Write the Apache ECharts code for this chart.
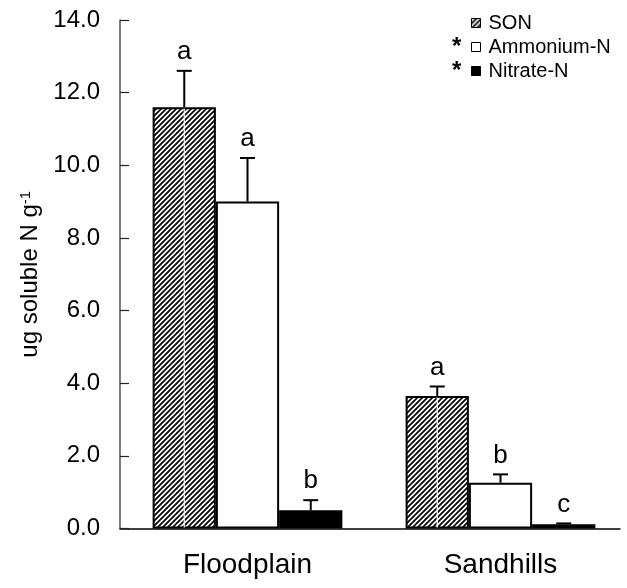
<!DOCTYPE html>
<html>
<head>
<meta charset="utf-8">
<script src="https://cdn.jsdelivr.net/npm/echarts/dist/echarts.min.js"></script>
<style>
  html, body { margin: 0; padding: 0; background: #fff; }
  #chart { width: 627px; height: 588px; }
</style>
</head>
<body>
<div id="chart"></div>
<script>
// Soluble N pools by site (ug N per g soil), mean with one-sided error bars
const sites = ['Floodplain', 'Sandhills'];
const seriesNames = ['SON', 'Ammonium-N', 'Nitrate-N'];

const sonMean = [11.6, 3.65];
const sonErr = [1.0, 0.26];
const ammoniumMean = [9.0, 1.26];
const ammoniumErr = [1.2, 0.23];
const nitrateMean = [0.5, 0.12];
const nitrateErr = [0.28, 0.02];

// significance letters drawn above each bar
const sonLetters = ['a', 'a'];
const ammoniumLetters = ['a', 'b'];
const nitrateLetters = ['b', 'c'];

const yMin = 0, yMax = 14, yStep = 2;

const means = [sonMean, ammoniumMean, nitrateMean];
const errs = [sonErr, ammoniumErr, nitrateErr];
const letters = [sonLetters, ammoniumLetters, nitrateLetters];

const FONT = 'Liberation Sans, Arial, sans-serif';
const CAT_GAP = 0.25;

// diagonal "////" hatch used for the SON bars
function hatch() {
  const s = 5;
  const c = document.createElement('canvas');
  c.width = s; c.height = s;
  const g = c.getContext('2d');
  g.fillStyle = '#fff';
  g.fillRect(0, 0, s, s);
  g.strokeStyle = '#000';
  g.lineWidth = 1.7;
  g.beginPath();
  g.moveTo(-1, s + 1); g.lineTo(s + 1, -1);
  g.moveTo(-1, 1); g.lineTo(1, -1);
  g.moveTo(s - 1, s + 1); g.lineTo(s + 1, s - 1);
  g.stroke();
  return c;
}
const hatchFill = { image: hatch(), repeat: 'repeat' };
const fills = [hatchFill, '#ffffff', '#000000'];

// error bar + letter records: [category, mean, err, seriesIdx]
const errData = [];
for (let k = 0; k < 3; k++) {
  for (let j = 0; j < sites.length; j++) {
    errData.push([j, means[k][j], errs[k][j], k]);
  }
}

function renderErr(params, api) {
  const cat = api.value(0), val = api.value(1), err = api.value(2), k = api.value(3);
  const band = api.size([1, 0])[0];
  const bw = band * (1 - CAT_GAP) / 3;
  const base = api.coord([cat, 0]);
  const x = base[0] + (k - 1) * bw;
  const yTop = api.coord([cat, val])[1];
  const yErr = api.coord([cat, val + err])[1];
  const cap = 7.5;
  const children = [];
  if (k === 0) {
    // light seam running down the hatched bar
    children.push({
      type: 'line',
      shape: { x1: x, y1: yTop + 1.5, x2: x, y2: base[1] - 1 },
      style: { stroke: '#fff', lineWidth: 1.2 }
    });
  }
  children.push({
    type: 'line',
    shape: { x1: x, y1: yTop, x2: x, y2: yErr },
    style: { stroke: '#000', lineWidth: 2 }
  });
  children.push({
    type: 'line',
    shape: { x1: x - cap, y1: yErr, x2: x + cap, y2: yErr },
    style: { stroke: '#000', lineWidth: 2 }
  });
  children.push({
    type: 'text',
    style: {
      text: letters[k][cat],
      x: x,
      y: yErr - 6,
      textAlign: 'center',
      textVerticalAlign: 'bottom',
      font: '26px ' + FONT,
      fill: '#000'
    }
  });
  return { type: 'group', children: children };
}

const chart = echarts.init(document.getElementById('chart'), null, { renderer: 'canvas' });

const barSeries = seriesNames.map((name, k) => ({
  name: name,
  type: 'bar',
  xAxisIndex: 1,
  yAxisIndex: 1,
  data: means[k],
  barGap: '0%',
  barCategoryGap: (CAT_GAP * 100) + '%',
  itemStyle: { color: fills[k], borderColor: '#000', borderWidth: 2 },
  emphasis: { disabled: true },
  animation: false
}));

chart.setOption({
  animation: false,
  backgroundColor: '#fff',
  grid: [
    { left: 120, top: 20, width: 500, height: 508.5 },
    { left: 121, top: 20, width: 507, height: 508.5 }
  ],
  xAxis: [
    {
      gridIndex: 0, type: 'category', data: sites,
      axisLine: { lineStyle: { color: '#000', width: 1.5 } },
      axisTick: { show: false }, axisLabel: { show: false }
    },
    {
      gridIndex: 1, type: 'category', data: sites,
      axisLine: { show: false }, axisTick: { show: false },
      axisLabel: { fontFamily: FONT, fontSize: 28, color: '#000', margin: 23 }
    }
  ],
  yAxis: [
    {
      gridIndex: 0, type: 'value', min: yMin, max: yMax, interval: yStep,
      splitLine: { show: false },
      axisLine: { show: true, lineStyle: { color: '#555', width: 1.5 } },
      axisTick: { show: true, inside: true, length: 9, lineStyle: { color: '#222', width: 1.2 } },
      axisLabel: {
        fontFamily: FONT, fontSize: 24, color: '#000', margin: 20,
        formatter: v => v.toFixed(1)
      },
      name: 'ug soluble N g{sup|-1}',
      nameLocation: 'middle',
      nameGap: 76,
      nameRotate: 90,
      nameTextStyle: {
        fontFamily: FONT, fontSize: 24, color: '#000',
        rich: { sup: { fontFamily: FONT, fontSize: 15, color: '#000', verticalAlign: 'top' } }
      }
    },
    {
      gridIndex: 1, type: 'value', min: yMin, max: yMax, interval: yStep,
      show: false, splitLine: { show: false }
    }
  ],
  legend: {
    orient: 'vertical',
    left: 466,
    top: 8,
    itemWidth: 9,
    itemHeight: 9,
    itemGap: 4,
    icon: 'rect',
    selectedMode: false,
    data: seriesNames,
    itemStyle: { borderWidth: 1, borderColor: '#000' },
    textStyle: { fontFamily: FONT, fontSize: 20, color: '#000', padding: [0, 0, 0, 3] }
  },
  graphic: [
    { type: 'text', left: 452, top: 35, style: { text: '*', font: 'bold 24px ' + FONT, fill: '#000' } },
    { type: 'text', left: 452, top: 59, style: { text: '*', font: 'bold 24px ' + FONT, fill: '#000' } }
  ],
  series: barSeries.concat([{
    type: 'custom',
    xAxisIndex: 1,
    yAxisIndex: 1,
    renderItem: renderErr,
    data: errData,
    z: 5,
    silent: true,
    animation: false
  }])
});
</script>
</body>
</html>
